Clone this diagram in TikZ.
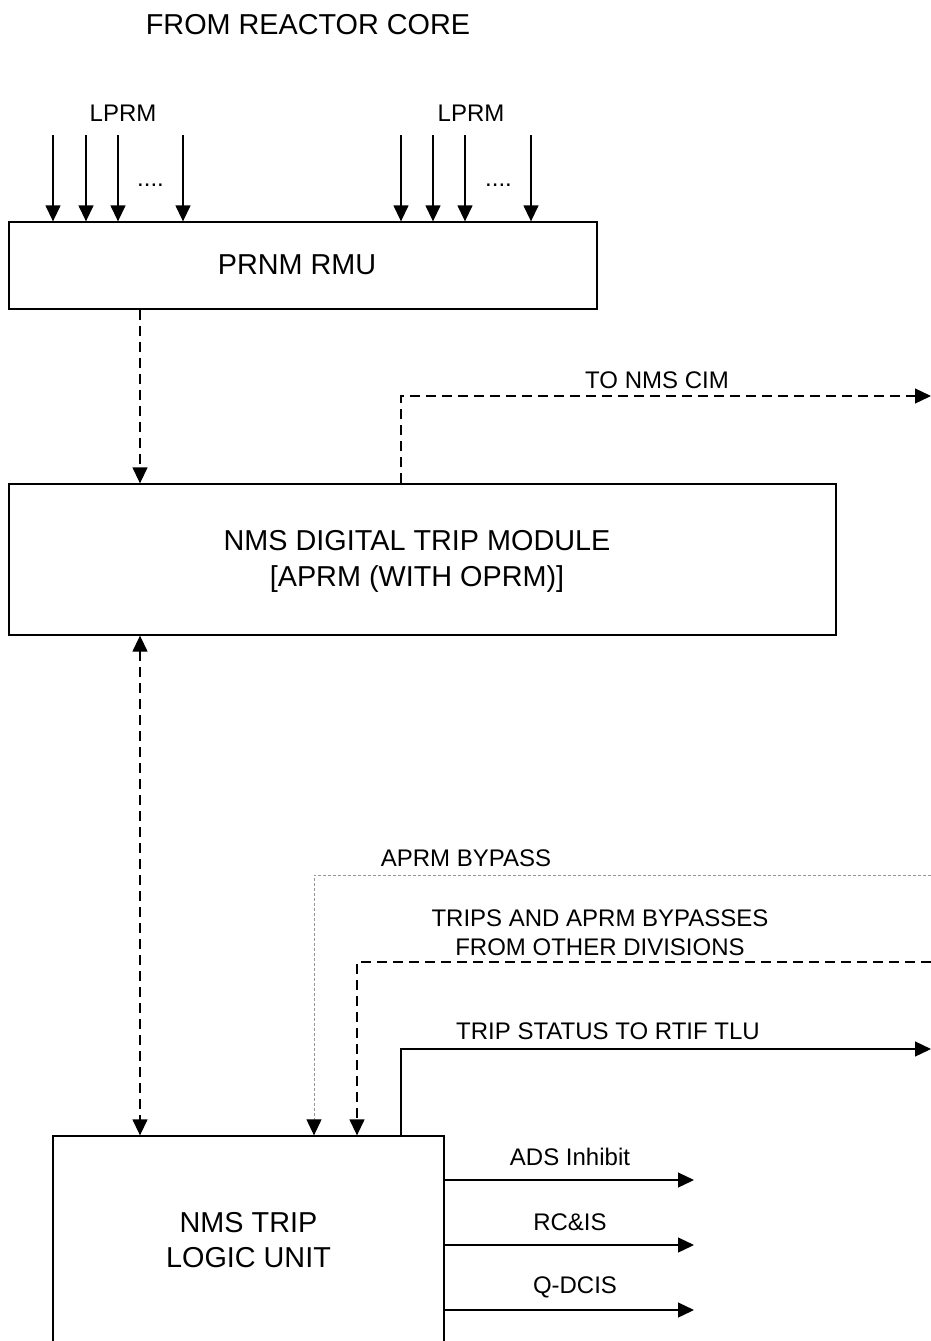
\documentclass[tikz,border=0pt]{standalone}
\usepackage{fontspec}
\setmainfont{Liberation Sans}
\usetikzlibrary{arrows.meta}

\tikzset{
  bighead/.tip={Triangle[length=16pt,width=15pt,color=black]},
  big/.style={font=\fontsize{28.8}{34.5}\selectfont, inner sep=0pt, align=center},
  small/.style={font=\fontsize{24}{29}\selectfont, inner sep=0pt, align=center},
  box/.style={draw, line width=1.3pt, rectangle, inner sep=0pt},
  tip/.style={-{bighead}},
  sig/.style={line width=1.3pt, tip},
  dashline/.style={line width=1.3pt, dash pattern=on 10pt off 6pt, tip},
  dotline/.style={line width=1pt, color={rgb,255:red,150;green,150;blue,150}, dash pattern=on 3pt off 2pt, tip},
}

\begin{document}
\begin{tikzpicture}[x=1pt,y=-1pt]
\useasboundingbox (0,0) rectangle (931,1341);

% title and input labels
\node[big] (title) at (308,25) {FROM REACTOR CORE};
\node[small] (lprmA) at (123,113) {LPRM};
\node[small] (lprmB) at (471,113) {LPRM};
\node[small, anchor=base west] (dotsA) at (137,186.5) {....};
\node[small, anchor=base west] (dotsB) at (485,186.5) {....};

% main blocks
\node[box, minimum width=588pt, minimum height=87pt] (rmu) at (303,265.5) {};
\node[big] (rmutxt) at (297,264.5) {PRNM RMU};
\node[box, minimum width=827pt, minimum height=151pt] (dtm) at (422.5,559.5) {};
\node[big] (dtmtxt) at (417,561)
  {NMS DIGITAL TRIP MODULE\\[1.5pt][APRM (WITH OPRM)]};
\node[box, minimum width=391pt, minimum height=207pt] (tlu) at (248.5,1239.5) {};
\node[big] (tlutxt) at (248.5,1240) {NMS TRIP\\LOGIC UNIT};

% LPRM inputs into the RMU
\foreach \x in {53,86,118,183,401,433,465,531}{
  \coordinate (in\x) at (\x,135);
  \draw[sig] (in\x) -- (rmu.north -| in\x);
}

% column positions for vertical runs
\coordinate (c140) at (140,0);
\coordinate (c314) at (314,0);
\coordinate (c357) at (357,0);
\coordinate (c401) at (401,0);

% RMU -> DTM
\draw[dashline] (rmu.south -| c140) -- (dtm.north -| c140);

% DTM -> NMS CIM
\coordinate (cim) at (931,396);
\draw[dashline] (dtm.north -| c401) |- (cim);
\node[small] (cimlbl) at (657,380) {TO NMS CIM};

% DTM <-> TLU
\draw[line width=1.3pt, dash pattern=on 10pt off 6pt, {bighead}-{bighead}]
  (dtm.south -| c140) -- (tlu.north -| c140);

% APRM bypass
\coordinate (byp) at (931,875);
\draw[dotline] (byp) -| (tlu.north -| c314);
\node[small] (byplbl) at (466,858) {APRM BYPASS};

% trips from other divisions
\coordinate (oth) at (931,962);
\draw[dashline] (oth) -| (tlu.north -| c357);
\node[small] (othlbl) at (600,932.5) {TRIPS AND APRM BYPASSES\\FROM OTHER DIVISIONS};

% trip status out
\coordinate (rtif) at (931,1049);
\draw[sig] (tlu.north -| c401) |- (rtif);
\node[small] (rtiflbl) at (608,1031) {TRIP STATUS TO RTIF TLU};

% TLU outputs
\coordinate (oA) at (694,1180);
\coordinate (oB) at (694,1245);
\coordinate (oC) at (694,1310);
\draw[sig] (tlu.east |- oA) -- (oA);
\draw[sig] (tlu.east |- oB) -- (oB);
\draw[sig] (tlu.east |- oC) -- (oC);
\node[small] (oAl) at (570,1157) {ADS Inhibit};
\node[small] (oBl) at (570,1222) {RC\&IS};
\node[small] (oCl) at (575,1287) {Q-DCIS};
\end{tikzpicture}
\end{document}
